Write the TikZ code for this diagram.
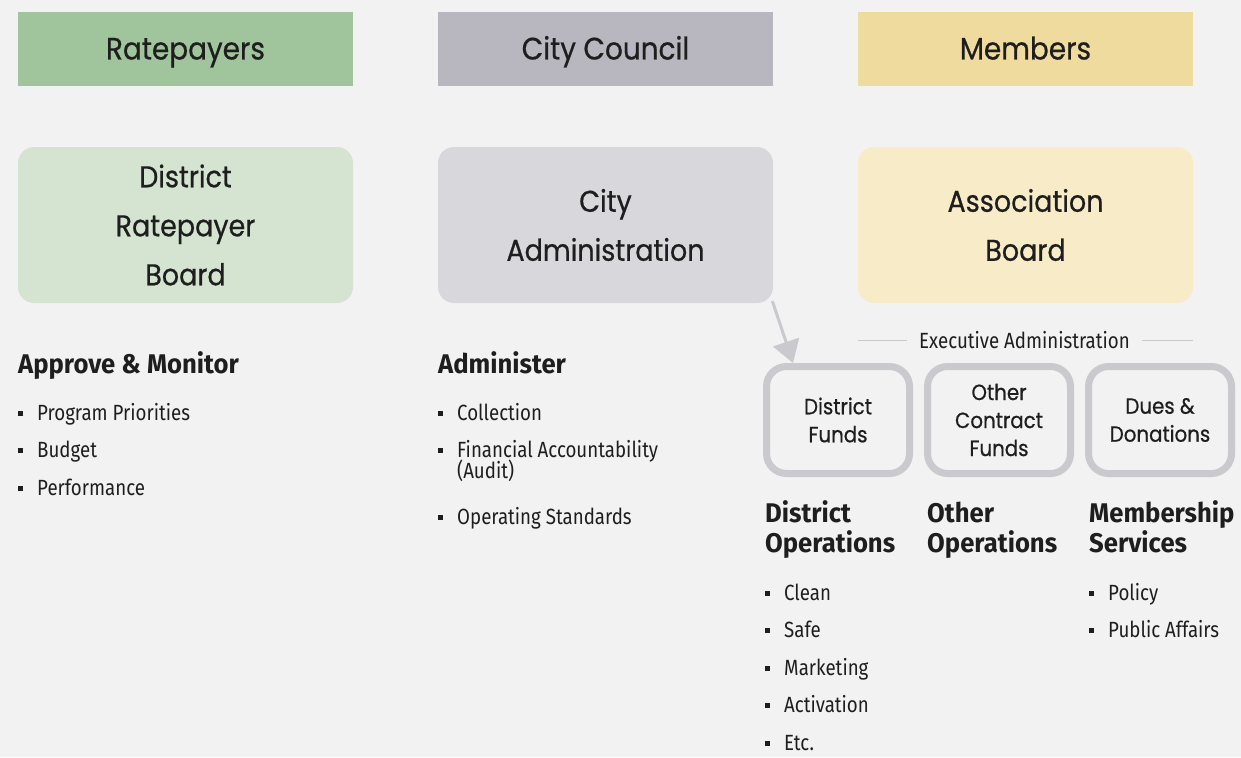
\documentclass[tikz,border=0pt]{standalone}
\usepackage{fontspec}
\setmainfont{Poppins}[FakeStretch=0.9,FakeBold=0.6]
\newfontfamily\condfont{Fira Sans}[FakeStretch=0.85]
\newfontfamily\headfont{Fira Sans}[FakeStretch=0.95]
\usetikzlibrary{positioning,arrows.meta}

\definecolor{bg}{HTML}{F2F2F2}
\definecolor{rategreen}{HTML}{A0C49C}
\definecolor{ratelight}{HTML}{D4E4D0}
\definecolor{citygray}{HTML}{B8B6BE}
\definecolor{citylight}{HTML}{D8D7DC}
\definecolor{membertan}{HTML}{EFDB9D}
\definecolor{memberlight}{HTML}{F7EBC8}
\definecolor{fundgray}{HTML}{C9C9CE}
\definecolor{ink}{HTML}{1E1E1E}

\newcommand\bul{\raisebox{4.5pt}{\rule{5pt}{5pt}}\hspace{14pt}}

\begin{document}
\begin{tikzpicture}[x=1pt, y=-1pt, node distance=85pt, text=ink,
                    top node/.style={rectangle,minimum width=335pt,minimum height=74pt,inner sep=0pt,outer sep=0pt,
                                     text height=21pt,text depth=0pt,font=\fontsize{31}{36}\selectfont},
                    board node/.style={rectangle,rounded corners=16pt,minimum width=335pt,minimum height=156pt,inner sep=0pt,outer sep=0pt,
                                       align=center,font=\fontsize{30}{49}\selectfont},
                    fund node/.style={rectangle,draw=fundgray,line width=7pt,rounded corners=20pt,minimum width=143pt,minimum height=107pt,
                                      inner sep=0pt,align=center,font=\fontsize{22}{28}\selectfont},
                    head node/.style={anchor=base west,inner sep=0pt,align=left,font=\headfont\bfseries\fontsize{27}{30}\selectfont},
                    list node/.style={anchor=base west,inner sep=0pt,align=left,font=\condfont\fontsize{22}{37.5}\selectfont}]

  \fill[bg] (0,0) rectangle (1241,757);

  \node[top node,fill=rategreen] (1) at (185.5,49) {Ratepayers};
  \node[top node,fill=citygray] (2) [right=of 1] {City Council};
  \node[top node,fill=membertan] (3) [right=of 2] {Members};
  \node[board node,fill=ratelight] (4) [below=61pt of 1] {District\\Ratepayer\\Board};
  \node[board node,fill=citylight] (5) [below=61pt of 2] {City\\Administration};
  \node[board node,fill=memberlight] (6) [below=61pt of 3] {Association\\Board};

  \node[fund node] (7) at (838,420) {District\\Funds};
  \node[fund node] (8) [right=11pt of 7] {Other\\Contract\\Funds};
  \node[fund node] (9) [right=11pt of 8] {Dues \&\\Donations};
  \node[inner sep=0pt,font=\condfont\fontsize{22}{24}\selectfont] (10) at (1024.5,340) {Executive Administration};

  % last baselines
  \node[head node] (11) at (18,373) {Approve \& Monitor};
  \node[list node] (12) at (18,495) {\bul Program Priorities\\\bul Budget\\\bul Performance};
  \node[head node] (13) at (438,373) {Administer};
  \node[list node] (14) at (438,524.5) {\bul Collection\\\bul Financial Accountability\\[-17pt]\hspace*{19pt}(Audit)\\[9pt]\bul Operating Standards};
  \node[head node] (15) at (765,552) {District\\Operations};
  \node[list node] (16) at (765,750) {\bul Clean\\\bul Safe\\\bul Marketing\\\bul Activation\\\bul Etc.};
  \node[head node] (17) at (927,552) {Other\\Operations};
  \node[head node] (18) at (1089,552) {Membership\\Services};
  \node[list node] (19) at (1089,637.5) {\bul Policy\\\bul Public Affairs};

\path[color=fundgray,line width=3pt]
    (5.south east) edge[-{Triangle[width=27pt,length=22pt]},shorten <=-2pt] ([xshift=30pt]7.north west)
    ([xshift=-12pt]10.west) edge[line width=1pt] (10 -| 6.west)
    ([xshift=12pt]10.east) edge[line width=1pt] (10 -| 6.east)
  ;

\end{tikzpicture}
\end{document}
